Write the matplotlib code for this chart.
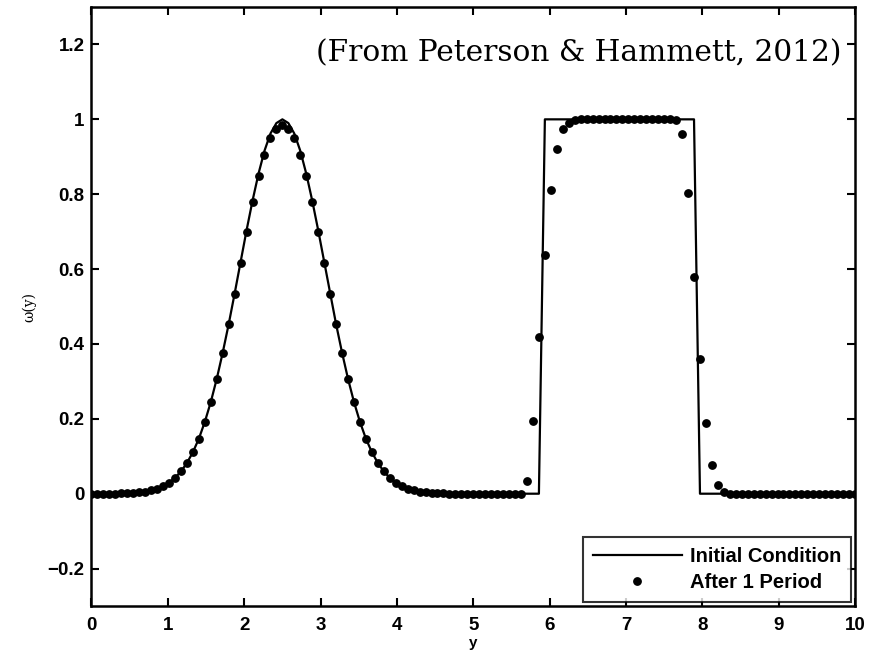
import numpy as np
import matplotlib
matplotlib.use("Agg")
import matplotlib.pyplot as plt

# Sample grid on [0, 10] (129 points, spacing 10/128)
grid_x = np.linspace(0.0, 10.0, 129)

# Initial condition: Gaussian bump centred at y = 2.5 plus a square pulse
initial_values = [
    0.00005, 0.00008, 0.00015, 0.00027, 0.00047, 0.00081, 0.00136, 0.00224,
    0.00361, 0.00571, 0.00885, 0.0135, 0.0201, 0.0295, 0.0423, 0.0595,
    0.0821, 0.111, 0.147, 0.192, 0.245, 0.307, 0.377, 0.453,
    0.535, 0.620, 0.704, 0.783, 0.855, 0.916, 0.962, 0.990,
    1.000,
    0.990, 0.962, 0.916, 0.855, 0.783, 0.704, 0.620, 0.535,
    0.453, 0.377, 0.307, 0.245, 0.192, 0.147, 0.111, 0.0821,
    0.0595, 0.0423, 0.0295, 0.0201, 0.0135, 0.00885, 0.00571, 0.00361,
    0.00224, 0.00136, 0.00081, 0.00047, 0.00027, 0.00015, 0.00008, 0.00005,
    0, 0, 0, 0, 0, 0, 0, 0, 0, 0, 0,
    1, 1, 1, 1, 1, 1, 1, 1, 1, 1, 1, 1, 1,
    1, 1, 1, 1, 1, 1, 1, 1, 1, 1, 1, 1, 1,
    0, 0, 0, 0, 0, 0, 0, 0, 0, 0, 0, 0, 0, 0,
    0, 0, 0, 0, 0, 0, 0, 0, 0, 0, 0, 0, 0,
]

# Solution after one advection period
period_values = [
    0.00005, 0.00008, 0.00015, 0.00027, 0.00047, 0.00081, 0.00136, 0.00224,
    0.00361, 0.00571, 0.00885, 0.0135, 0.0201, 0.0295, 0.0423, 0.0595,
    0.0821, 0.111, 0.147, 0.192, 0.245, 0.307, 0.377, 0.453,
    0.533, 0.617, 0.700, 0.778, 0.848, 0.906, 0.950, 0.975,
    0.985,
    0.975, 0.950, 0.906, 0.848, 0.778, 0.700, 0.617, 0.533,
    0.453, 0.377, 0.307, 0.245, 0.192, 0.147, 0.111, 0.0821,
    0.0595, 0.0423, 0.0295, 0.0201, 0.0135, 0.00885, 0.00571, 0.00361,
    0.00224, 0.00136, 0.00081, 0.00047, 0.00027, 0.00015, 0.00008, 0.00005,
    0, 0, 0, 0, 0, 0, 0, 0,
    0.035, 0.194, 0.418, 0.637, 0.810, 0.920, 0.975, 0.990, 0.997,
    1, 1, 1, 1, 1, 1, 1, 1, 1, 1, 1, 1, 1, 1, 1, 1,
    0.998, 0.961, 0.803, 0.578, 0.359, 0.190, 0.077, 0.023, 0.005,
    0, 0, 0, 0, 0, 0, 0, 0, 0, 0, 0,
    0, 0, 0, 0, 0, 0, 0, 0, 0, 0, 0,
]

x_ticks = [0, 1, 2, 3, 4, 5, 6, 7, 8, 9, 10]
y_ticks = [-0.2, 0, 0.2, 0.4, 0.6, 0.8, 1, 1.2]
y_tick_labels = ["\u22120.2", "0", "0.2", "0.4", "0.6", "0.8", "1", "1.2"]

plt.rcParams["font.family"] = ["Liberation Sans", "DejaVu Sans"]
plt.rcParams["font.weight"] = "bold"

fig = plt.figure(figsize=(8.78, 6.57), dpi=100)
ax = fig.add_axes([0.1042, 0.0776, 0.8697, 0.9117])

ax.plot(grid_x, initial_values, color="black", lw=1.6, label="Initial Condition")
ax.plot(grid_x, period_values, linestyle="none", marker="o", ms=5.3,
        color="black", label="After 1 Period")

ax.set_xlim(0, 10)
ax.set_ylim(-0.3, 1.3)
ax.set_xticks(x_ticks)
ax.set_xticklabels([str(t) for t in x_ticks])
ax.set_yticks(y_ticks)
ax.set_yticklabels(y_tick_labels)

ax.tick_params(direction="in", length=6, width=1.5, top=True, right=True,
               labelsize=13.5)
ax.tick_params(axis="y", pad=5)
ax.tick_params(axis="x", pad=8)
for s in ax.spines.values():
    s.set_linewidth(1.8)

ax.set_xlabel("y", fontsize=11, fontweight="bold", labelpad=1)
ax.set_ylabel("\u03c9(y)", fontsize=10, fontweight="normal",
              family=["DejaVu Serif"], labelpad=8)

ax.text(0.982, 0.922, "(From Peterson & Hammett, 2012)", transform=ax.transAxes,
        ha="right", va="center", fontsize=21.3, fontweight="normal",
        family=["DejaVu Serif"])

leg = ax.legend(loc="lower right", fontsize=14.5, frameon=True, fancybox=False,
                borderpad=0.5, labelspacing=0.35, handlelength=4.4,
                handletextpad=0.4, borderaxespad=0.2, markerscale=1.0)
leg.get_frame().set_edgecolor("black")
leg.get_frame().set_linewidth(1.5)
for t in leg.get_texts():
    t.set_fontweight("bold")

fig.savefig("out.png", dpi=100)
